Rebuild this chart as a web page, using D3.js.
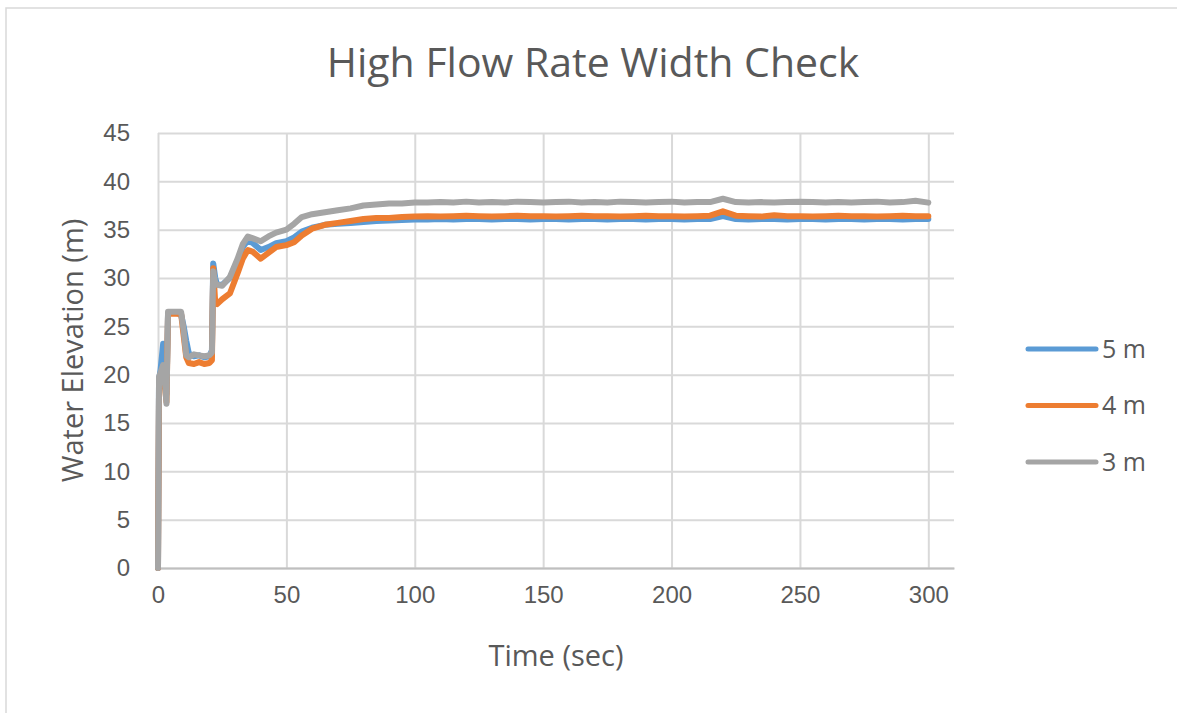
<!DOCTYPE html>
<html>
<head>
<meta charset="utf-8">
<script src="https://cdn.jsdelivr.net/npm/d3@7"></script>
<style>
  body { margin: 0; background: #fff; }
  svg { display: block; font-family: "Open Sans", sans-serif; }
  .grid line { stroke: #d9d9d9; stroke-width: 2; }
  .tick text { fill: #595959; font-size: 24px; }
</style>
</head>
<body>
<div id="chart"></div>
<script>
// time (sec) and water elevation (m)
const times = [0, 0.4, 1, 2, 2.6, 3.3, 3.9, 5, 7, 9, 10, 11, 12, 14, 16, 18, 20, 21, 21.5, 22.3, 23, 25, 28, 31, 33, 35, 37, 40, 43, 46,
  50, 53, 56, 60, 65, 70, 75, 80, 85, 90, 95, 100,
  105, 110, 115, 120, 125, 130, 135, 140, 145, 150, 155, 160, 165, 170, 175, 180, 185, 190, 195, 200,
  205, 210, 215, 220, 225, 230, 235, 240, 245, 250, 255, 260, 265, 270, 275, 280, 285, 290, 295, 300];

const width5m = [0, 19.5, 20.5, 23.2, 21, 18, 26.3, 26.4, 26.4, 26.2, 25, 23.5, 22.2, 21.9, 22.0, 21.8, 21.9, 22.5, 31.5, 30.0, 29.3, 29.3, 30, 31.8, 33.2, 33.9, 33.6, 32.9, 33.2, 33.6,
  33.8, 34.2, 34.8, 35.2, 35.5, 35.6, 35.7, 35.8, 35.9, 35.95, 36.0, 36.05,
  36.05, 36.1, 36.05, 36.1, 36.1, 36.05, 36.1, 36.1, 36.05, 36.1, 36.1, 36.05, 36.1, 36.1, 36.05, 36.1, 36.1, 36.05, 36.1, 36.1,
  36.05, 36.1, 36.1, 36.4, 36.1, 36.05, 36.1, 36.1, 36.05, 36.1, 36.1, 36.05, 36.1, 36.1, 36.05, 36.1, 36.1, 36.05, 36.1, 36.1];

const width4m = [0, 18.5, 19, 20, 19, 17.2, 26.2, 26.3, 26.3, 26.3, 24, 21.8, 21.2, 21.1, 21.3, 21.1, 21.2, 21.5, 31, 27.4, 27.3, 27.8, 28.4, 30.5, 32, 32.9, 32.7, 32.0, 32.6, 33.2,
  33.4, 33.7, 34.4, 35.1, 35.5, 35.7, 35.9, 36.1, 36.2, 36.2, 36.3, 36.35,
  36.4, 36.35, 36.4, 36.45, 36.4, 36.35, 36.4, 36.45, 36.4, 36.4, 36.35, 36.4, 36.45, 36.4, 36.4, 36.35, 36.4, 36.45, 36.4, 36.4,
  36.35, 36.4, 36.45, 36.9, 36.45, 36.4, 36.35, 36.5, 36.4, 36.4, 36.35, 36.4, 36.45, 36.4, 36.4, 36.35, 36.4, 36.45, 36.4, 36.4];

const width3m = [0, 19.8, 20.2, 21, 19.5, 17, 26.5, 26.5, 26.5, 26.5, 24.5, 22, 21.8, 22.1, 22.0, 21.9, 22, 22.3, 30.7, 29.5, 29.3, 29.2, 30.1, 32, 33.5, 34.3, 34.1, 33.8, 34.3, 34.7,
  35.0, 35.6, 36.3, 36.6, 36.8, 37.0, 37.2, 37.5, 37.6, 37.7, 37.7, 37.8,
  37.8, 37.85, 37.8, 37.9, 37.8, 37.85, 37.8, 37.9, 37.85, 37.8, 37.85, 37.9, 37.8, 37.85, 37.8, 37.9, 37.85, 37.8, 37.85, 37.9,
  37.8, 37.85, 37.85, 38.2, 37.85, 37.8, 37.85, 37.8, 37.85, 37.9, 37.85, 37.8, 37.85, 37.8, 37.85, 37.9, 37.8, 37.85, 38.0, 37.8];

const seriesNames = ["5 m", "4 m", "3 m"];
const seriesColors = ["#5b9bd5", "#ed7d31", "#a5a5a5"];
const xTicks = [0, 50, 100, 150, 200, 250, 300];
const yTicks = [0, 5, 10, 15, 20, 25, 30, 35, 40, 45];

const W = 1177, H = 713;
const plot = {left: 158, right: 954, top: 133, bottom: 568};

const svg = d3.select("#chart").append("svg")
  .attr("width", W)
  .attr("height", H);

// chart frame
svg.append("rect")
  .attr("x", 6).attr("y", 8)
  .attr("width", W + 20).attr("height", H + 20)
  .attr("fill", "#fff")
  .attr("stroke", "#d9d9d9")
  .attr("stroke-width", 1.5);

let x = d3.scaleLinear().domain([0, 310]).range([plot.left, plot.right]);
let y = d3.scaleLinear().domain([0, 45]).range([plot.bottom, plot.top]);

// horizontal gridlines
svg.append("g")
  .attr("class", "grid")
  .attr("transform", "translate(" + plot.left + ",0)")
  .call(d3.axisLeft(y).tickValues(yTicks).tickSize(-(plot.right - plot.left)).tickFormat(""))
  .call(g => g.select(".domain").remove());

// vertical gridlines
svg.append("g")
  .attr("class", "grid")
  .attr("transform", "translate(0," + plot.top + ")")
  .call(d3.axisBottom(x).tickValues(xTicks).tickSize(plot.bottom - plot.top).tickFormat(""))
  .call(g => g.select(".domain").remove());

// x axis line + labels
svg.append("g")
  .attr("transform", "translate(0," + plot.bottom + ")")
  .call(d3.axisBottom(x).tickValues(xTicks).tickSize(0).tickPadding(30))
  .call(g => g.select(".domain").attr("stroke", "#bfbfbf").attr("stroke-width", 2))
  .call(g => g.selectAll("text").attr("font-family", null).attr("font-size", null).attr("dy", "0.2em"));

// y axis labels
svg.append("g")
  .attr("transform", "translate(" + plot.left + ",0)")
  .call(d3.axisLeft(y).tickValues(yTicks).tickSize(0).tickPadding(28))
  .call(g => g.select(".domain").remove())
  .call(g => g.selectAll("text").attr("font-family", null).attr("font-size", null));

// series lines
const seriesData = [width5m, width4m, width3m];
let line = d3.line()
  .x((d, i) => x(times[i]))
  .y(d => y(d));

seriesData.forEach((vals, k) => {
  svg.append("path")
    .datum(vals)
    .attr("fill", "none")
    .attr("stroke", seriesColors[k])
    .attr("stroke-width", 6)
    .attr("stroke-linejoin", "round")
    .attr("stroke-linecap", "round")
    .attr("d", line);
});

// title
svg.append("text")
  .attr("x", 593).attr("y", 77)
  .attr("text-anchor", "middle")
  .attr("fill", "#595959")
  .attr("font-size", 41)
  .text("High Flow Rate Width Check");

// axis titles
svg.append("text")
  .attr("x", (plot.left + plot.right) / 2).attr("y", 666)
  .attr("text-anchor", "middle")
  .attr("fill", "#595959")
  .attr("font-size", 29)
  .text("Time (sec)");

svg.append("text")
  .attr("transform", "translate(83," + ((plot.top + plot.bottom) / 2) + ") rotate(-90)")
  .attr("text-anchor", "middle")
  .attr("fill", "#595959")
  .attr("font-size", 29)
  .text("Water Elevation (m)");

// legend
let legend = svg.append("g");
seriesNames.forEach((name, k) => {
  let ly = 349 + k * 56.5;
  legend.append("line")
    .attr("x1", 1028).attr("x2", 1096)
    .attr("y1", ly).attr("y2", ly)
    .attr("stroke", seriesColors[k])
    .attr("stroke-width", 5)
    .attr("stroke-linecap", "round");
  legend.append("text")
    .attr("x", 1102).attr("y", ly)
    .attr("dy", "0.35em")
    .attr("fill", "#595959")
    .attr("font-size", 25)
    .text(name);
});
</script>
</body>
</html>
